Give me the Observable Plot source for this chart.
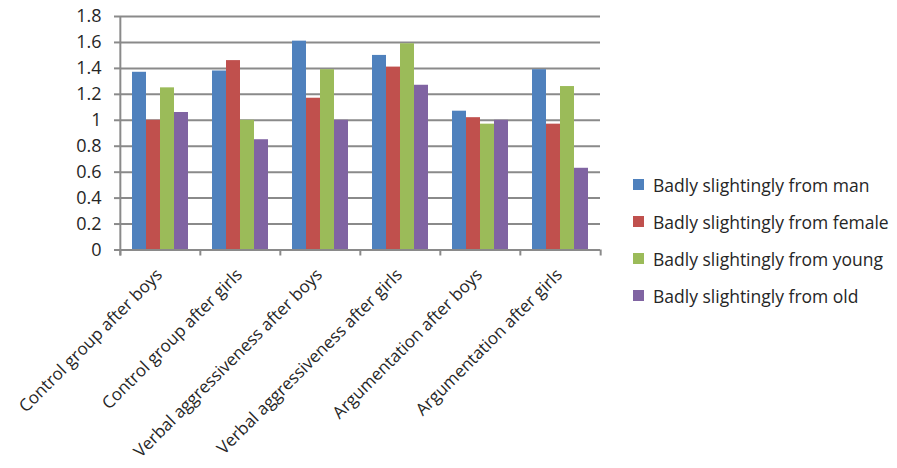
<!DOCTYPE html>
<html>
<head>
<meta charset="utf-8">
<script src="https://cdn.jsdelivr.net/npm/d3@7"></script>
<script src="https://cdn.jsdelivr.net/npm/@observablehq/plot@0.6"></script>
<style>
  html, body { margin: 0; padding: 0; background: #fff; }
  #wrap { position: relative; width: 897px; height: 468px; font-family: "Open Sans", sans-serif; }
  #legend { position: absolute; left: 633px; top: 166px; }
  .item { display: flex; align-items: center; height: 37px; font-size: 17.5px; color: #262626; white-space: nowrap; }
  .sw { width: 11px; height: 11px; margin-right: 9px; flex: none; }
</style>
</head>
<body>
<div id="wrap"></div>
<script>
// Groups along the horizontal axis
const categories = [
  "Control group after boys",
  "Control group after girls",
  "Verbal aggressiveness after boys",
  "Verbal aggressiveness after girls",
  "Argumentation after boys",
  "Argumentation after girls"
];

// Series (one bar per series in each group)
const seriesNames = [
  "Badly slightingly from man",
  "Badly slightingly from female",
  "Badly slightingly from young",
  "Badly slightingly from old"
];
const seriesColors = ["#4F81BD", "#C0504D", "#9BBB59", "#8064A2"];

const manValues    = [1.37, 1.38, 1.61, 1.50, 1.07, 1.39];
const femaleValues = [1.00, 1.46, 1.17, 1.41, 1.02, 0.97];
const youngValues  = [1.25, 1.00, 1.39, 1.59, 0.97, 1.26];
const oldValues    = [1.06, 0.85, 1.00, 1.27, 1.00, 0.63];

// Value axis
const yTicks = [0, 0.2, 0.4, 0.6, 0.8, 1, 1.2, 1.4, 1.6, 1.8];
const yTickLabels = ["0", "0.2", "0.4", "0.6", "0.8", "1", "1.2", "1.4", "1.6", "1.8"];

// Long-format table for the grouped bars
const seriesValues = [manValues, femaleValues, youngValues, oldValues];
const rows = [];
categories.forEach((c, i) => {
  seriesNames.forEach((s, j) => rows.push({category: c, series: s, value: seriesValues[j][i]}));
});
const yLabel = new Map(yTicks.map((t, i) => [t, yTickLabels[i]]));

const W = 897, H = 468;
const mL = 119, mR = 296, mT = 16, mB = 218.5;
const step = (W - mL - mR) / categories.length;
const axisGray = "#8A8A8A";
const textColor = "#262626";

const chart = Plot.plot({
  width: W,
  height: H,
  marginLeft: mL,
  marginRight: mR,
  marginTop: mT,
  marginBottom: mB,
  style: {fontFamily: "'Open Sans', sans-serif", fontSize: "17px", color: textColor, background: "#fff"},
  fx: {domain: categories, padding: 0, label: null},
  x: {domain: seriesNames, paddingInner: 0, paddingOuter: 0.72, axis: null},
  y: {domain: [0, 1.8], label: null},
  color: {domain: seriesNames, range: seriesColors},
  marks: [
    Plot.gridY(yTicks, {stroke: axisGray, strokeOpacity: 1, strokeWidth: 2}),
    Plot.barY(rows, {fx: "category", x: "series", y: "value", fill: "series", inset: 0}),
    Plot.ruleY([0], {stroke: axisGray, strokeWidth: 2}),
    // category boundary ticks below the baseline
    Plot.ruleX(categories, {x: null, fx: d => d, y1: 0, y2: 0, insetBottom: -6, dx: -step / 2, stroke: axisGray, strokeWidth: 2}),
    Plot.ruleX(categories.slice(-1), {x: null, fx: d => d, y1: 0, y2: 0, insetBottom: -6, dx: step / 2, stroke: axisGray, strokeWidth: 2}),
    // value axis line
    Plot.ruleX(categories.slice(0, 1), {x: null, fx: d => d, insetBottom: -6, dx: -step / 2, stroke: axisGray, strokeWidth: 2}),
    Plot.axisY(yTicks, {
      tickSize: 6, tickPadding: 13, stroke: axisGray, strokeWidth: 2, fontSize: 18,
      tickFormat: d => yLabel.get(d), fill: textColor, label: null
    }),
    Plot.axisFx({
      anchor: "bottom", tickSize: 0, tickRotate: -45, tickPadding: 22, dx: -1, fill: textColor, label: null
    })
  ]
});

const wrap = document.getElementById("wrap");
wrap.appendChild(chart);

// Legend to the right of the plot
const legend = d3.select(wrap).append("div").attr("id", "legend");
const items = legend.selectAll(".item").data(seriesNames).join("div").attr("class", "item");
items.append("span").attr("class", "sw").style("background", (d, i) => seriesColors[i]);
items.append("span").text(d => d);
</script>
</body>
</html>
